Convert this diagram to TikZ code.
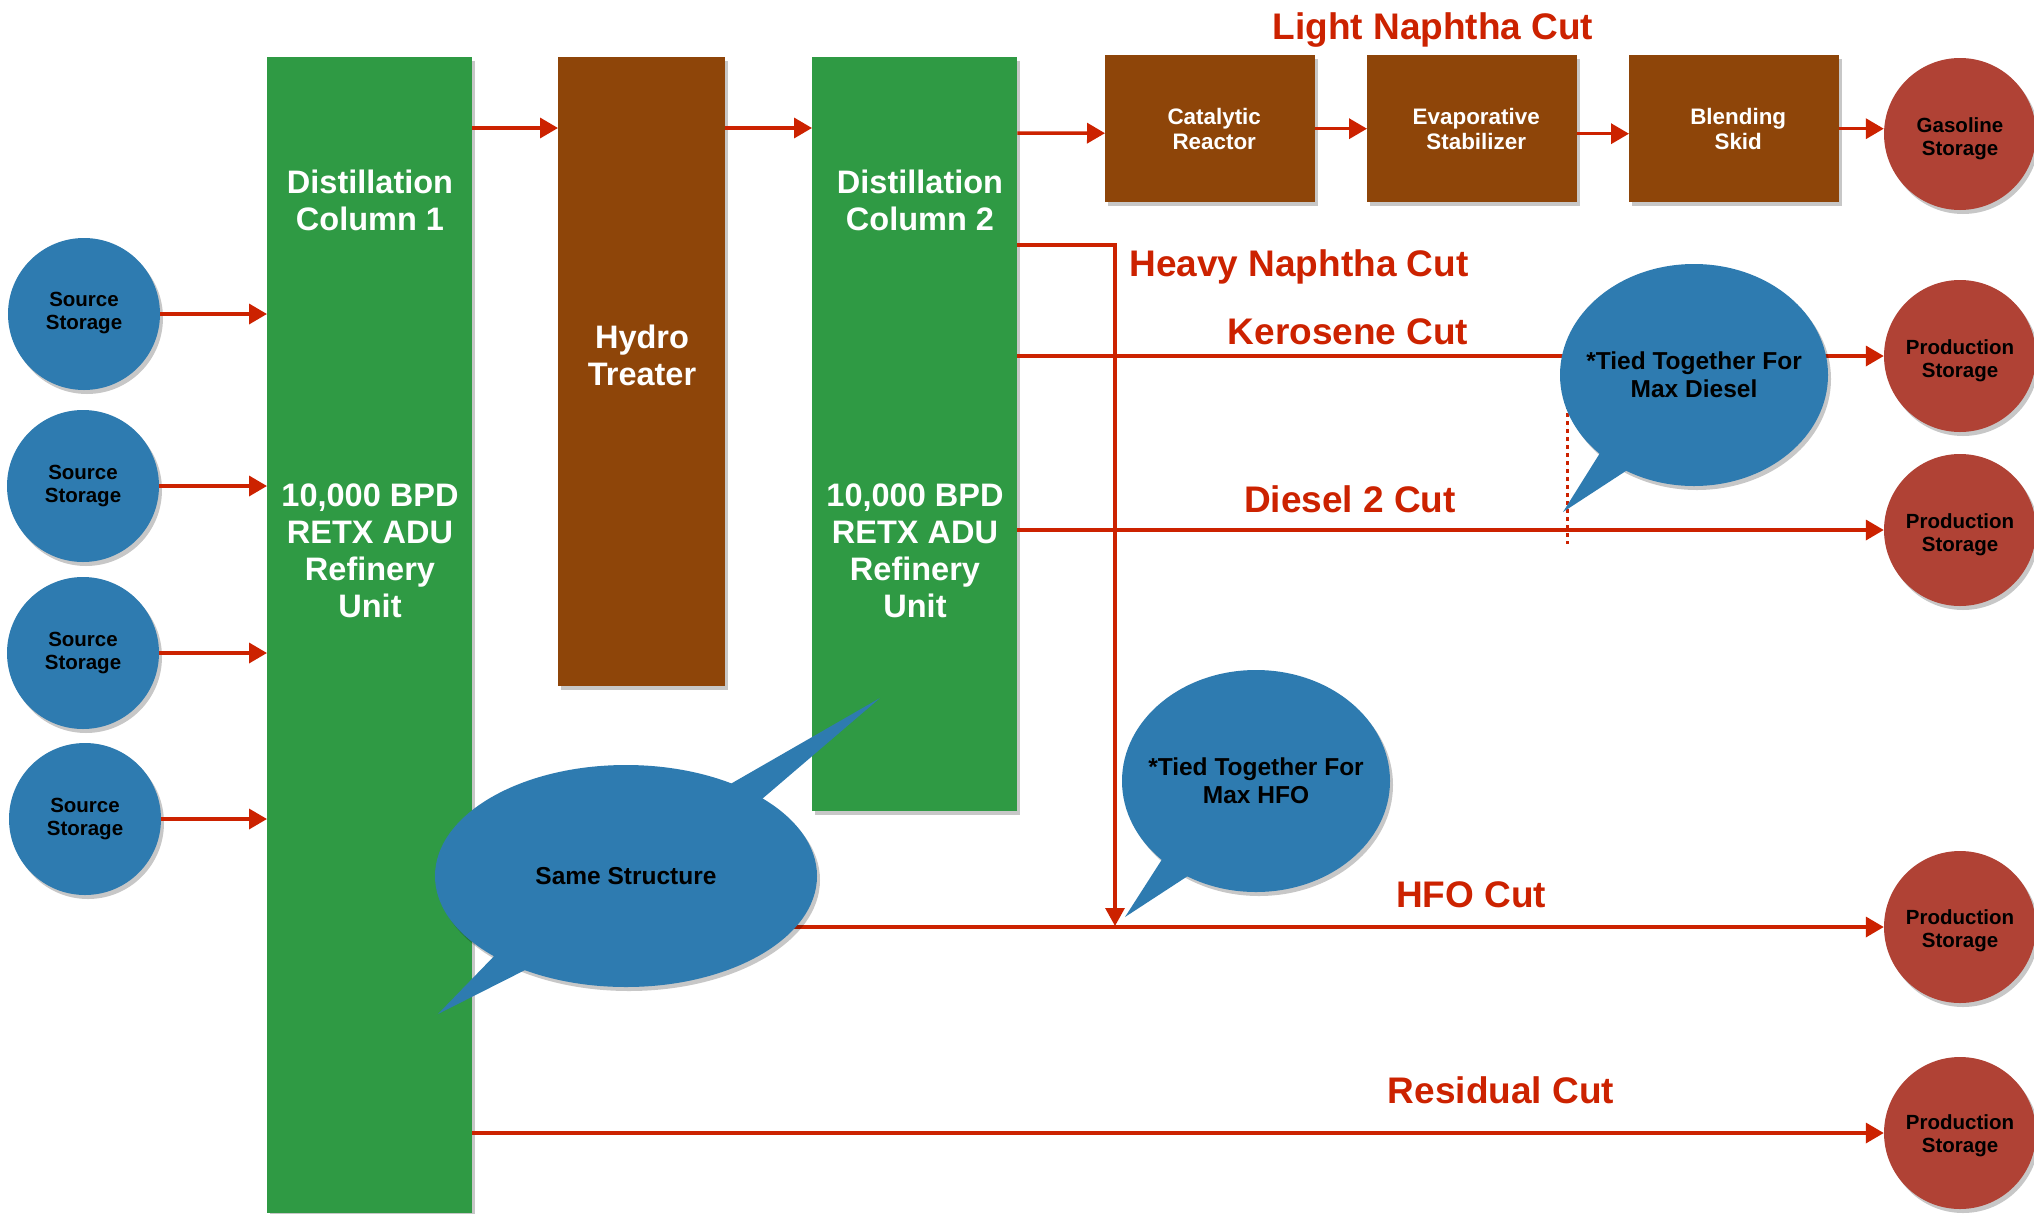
\documentclass[tikz,border=0pt]{standalone}
\usepackage{fontspec}
\setmainfont{Liberation Sans}
\usetikzlibrary{arrows.meta,shapes.geometric,shadows}
\definecolor{cgreen}{HTML}{2F9A44}
\definecolor{cbrown}{HTML}{8E4509}
\definecolor{cblue}{HTML}{2E7BB0}
\definecolor{credc}{HTML}{B04235}
\definecolor{cline}{HTML}{CC2200}
\newcommand\labfont{\fontsize{37}{44}\selectfont\bfseries}
\newcommand\colfont{\fontsize{32.5}{37}\selectfont\bfseries}
\newcommand\boxfont{\fontsize{22.4}{25}\selectfont\bfseries}
\newcommand\circfont{\fontsize{20.5}{23}\selectfont\bfseries}
\newcommand\bubfont{\fontsize{24.5}{28}\selectfont\bfseries}
\begin{document}
\begin{tikzpicture}[x=1pt,y=-1pt,
  shd/.style={drop shadow={shadow xshift=3pt,shadow yshift=-4pt,opacity=.22,fill=black}},
  colbox/.style={fill=cgreen,inner sep=0pt,anchor=north west,shd},
  brownbox/.style={fill=cbrown,inner sep=0pt,anchor=north west,shd},
  srccirc/.style={circle,fill=cblue,minimum size=152pt,inner sep=0pt,shd},
  prodcirc/.style={circle,fill=credc,minimum size=152pt,inner sep=0pt,shd},
  ctext/.style={align=center,text=black,font=\circfont,inner sep=0pt},
  wtext/.style={text=white,align=center},
  redlab/.style={text=cline,font=\labfont,inner sep=0pt},
  arr/.style={draw=cline,line width=3.5pt,-{Triangle[length=18pt,width=20pt]}},
  arrthin/.style={draw=cline,line width=3.1pt,-{Triangle[length=18pt,width=19pt]}},
  bubtext/.style={align=center,text=black,font=\bubfont,inner sep=0pt},
  bubfill/.style={fill=cblue}
]
\useasboundingbox (0,0) rectangle (2034,1213);
\fill[white] (0,0) rectangle (2034,1213);

% main units
\node[colbox,minimum width=205pt,minimum height=1156pt] (col1) at (267,57) {};
\node[brownbox,minimum width=167pt,minimum height=629pt] (hydro) at (558,57) {};
\node[colbox,minimum width=205pt,minimum height=754pt] (col2) at (812,57) {};

\node[wtext,font=\colfont] (c1a) at (370,200) {Distillation\\Column 1};
\node[wtext,font=\colfont] (c1b) at (370,551) {10,000 BPD\\RETX ADU\\Refinery\\Unit};
\node[wtext,font=\colfont] (hyt) at (642,355) {Hydro\\Treater};
\node[wtext,font=\colfont] (c2a) at (920,200) {Distillation\\Column 2};
\node[wtext,font=\colfont] (c2b) at (915,551) {10,000 BPD\\RETX ADU\\Refinery\\Unit};

% light naphtha train
\node[brownbox,minimum width=210pt,minimum height=147pt] (cat) at (1105,55) {};
\node[brownbox,minimum width=210pt,minimum height=147pt] (evap) at (1367,55) {};
\node[brownbox,minimum width=210pt,minimum height=147pt] (blend) at (1629,55) {};
\node[wtext,font=\boxfont] (catt) at ([xshift=4pt]cat.center) {Catalytic\\Reactor};
\node[wtext,font=\boxfont] (evapt) at ([xshift=4pt]evap.center) {Evaporative\\Stabilizer};
\node[wtext,font=\boxfont] (blendt) at ([xshift=4pt]blend.center) {Blending\\Skid};

% storages
\node[srccirc] (s1) at (84,314) {};
\node[srccirc] (s2) at (83,486) {};
\node[srccirc] (s3) at (83,653) {};
\node[srccirc] (s4) at (85,819) {};
\node[ctext] (s1t) at ([yshift=1pt]s1.center) {Source\\Storage};
\node[ctext] (s2t) at (s2.center) {Source\\Storage};
\node[ctext] (s3t) at (s3.center) {Source\\Storage};
\node[ctext] (s4t) at (s4.center) {Source\\Storage};
\node[prodcirc] (gas) at (1960,134) {};
\node[prodcirc] (p1) at (1960,356) {};
\node[prodcirc] (p2) at (1960,530) {};
\node[prodcirc] (p3) at (1960,927) {};
\node[prodcirc] (p4) at (1960,1133) {};
\node[ctext] (gast) at ([yshift=-5pt]gas.center) {Gasoline\\Storage};
\node[ctext] (p1t) at ([yshift=-5pt]p1.center) {Production\\Storage};
\node[ctext] (p2t) at ([yshift=-5pt]p2.center) {Production\\Storage};
\node[ctext] (p3t) at ([yshift=-4pt]p3.center) {Production\\Storage};
\node[ctext] (p4t) at ([yshift=-3pt]p4.center) {Production\\Storage};

% source feeds
\draw[arr] (s1.east) -- (s1.east -| col1.west);
\draw[arr] (s2.east) -- (s2.east -| col1.west);
\draw[arr] (s3.east) -- (s3.east -| col1.west);
\draw[arr] (s4.east) -- (s4.east -| col1.west);

% main chain
\draw[arr] ([yshift=-71pt]col1.north east) -- ([yshift=-71pt]hydro.north west);
\draw[arr] ([yshift=-71pt]hydro.north east) -- ([yshift=-71pt]col2.north west);
\draw[arr] ([yshift=-76pt]col2.north east) -- ([yshift=-4.5pt]cat.west);
\draw[arr] (cat.east) -- (evap.west);
\draw[arr] ([yshift=-5pt]evap.east) -- ([yshift=-5pt]blend.west);
\draw[arr] (blend.east) -- (blend.east -| gas.west);

% cuts
\draw[arr] (p1.west -| col2.east) -- (p1.west);
\draw[arr] (p2.west -| col2.east) -- (p2.west);
\draw[arr] (p3.west -| col1.east) -- (p3.west);
\draw[arr] (p4.west -| col1.east) -- (p4.west);
\coordinate (hj) at (1115,926);
\draw[arrthin] ([yshift=-188pt]col2.north east) -| (hj);
\coordinate (dtop) at (1567,357);
\coordinate (dbot) at (1567,544);
\draw[draw=cline,line width=3pt,dash pattern=on 4pt off 4pt] (dtop) -- (dbot);

% labels
\node[redlab] (lnc) at (1433,30) {Light Naphtha Cut};
\node[redlab] (hnc) at (1299,267) {Heavy Naphtha Cut};
\node[redlab] (kc) at (1348,332) {Kerosene Cut};
\node[redlab] (dc) at (1350,499) {Diesel 2 Cut};
\node[redlab] (hc) at (1471,895) {HFO Cut};
\node[redlab] (rc) at (1501,1090) {Residual Cut};

% bubbles
\fill[bubfill,shd] (1694,375) ellipse [x radius=134pt, y radius=111pt];
\fill[bubfill] (1605,445) -- (1563,512) -- (1635,465) -- cycle;
\node[bubtext] (bd) at (1694,375) {*Tied Together For\\Max Diesel};

\fill[bubfill,shd] (1256,781) ellipse [x radius=134pt, y radius=111pt];
\fill[bubfill] (1168,850) -- (1125,917) -- (1197,870) -- cycle;
\node[bubtext] (bh) at (1256,781) {*Tied Together For\\Max HFO};

\fill[bubfill,shd] (626,876) ellipse [x radius=191pt, y radius=111pt];
\fill[bubfill] (720,790) -- (880,698) -- (755,805) -- cycle;
\fill[bubfill] (500,950) -- (438,1014) -- (535,965) -- cycle;
\node[bubtext] (bs) at (626,876) {Same Structure};
\end{tikzpicture}
\end{document}
